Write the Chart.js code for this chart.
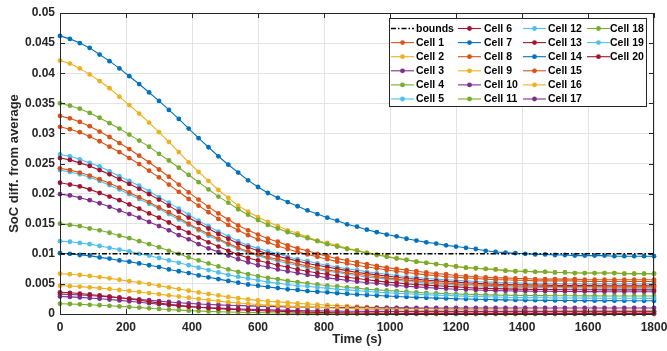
<!DOCTYPE html>
<html>
<head>
<meta charset="utf-8">
<title>SoC balancing</title>
<script src="https://cdn.jsdelivr.net/npm/chart.js@4.4.1/dist/chart.umd.min.js"></script>
<style>
  html, body { margin: 0; padding: 0; background: #fff; }
  #wrap { width: 667px; height: 351px; }
</style>
</head>
<body>
<div id="wrap"><canvas id="socChart" width="667" height="351"></canvas></div>
<script>
// sample times (s)
const timeS = [0,30,60,90,120,150,180,210,240,270,300,330,360,390,420,450,480,510,540,570,
  600,630,660,690,720,750,780,810,840,870,900,930,960,990,1020,1050,1080,1110,1140,1170,
  1200,1230,1260,1290,1320,1350,1380,1410,1440,1470,1500,1530,1560,1590,1620,1650,1680,1710,1740,1770,1800];

// balancing bound
const boundTimes = [0, 1800];
const boundValues = [0.01, 0.01];

// SoC difference from the pack average, one array per cell
const cell1 = [0.0329,0.0325,0.0319,0.0312,0.0303,0.0294,0.0284,0.0274,0.0263,0.0252,
  0.024,0.0228,0.0215,0.0202,0.019,0.0178,0.0167,0.0157,0.0147,0.0139,
  0.0132,0.0125,0.012,0.0114,0.0109,0.0105,0.01,0.0096,0.0092,0.0089,
  0.0086,0.0083,0.008,0.0077,0.0075,0.0073,0.0071,0.0069,0.0067,0.0066,
  0.0064,0.0063,0.0062,0.0061,0.006,0.006,0.0059,0.0059,0.0058,0.0058,
  0.0058,0.0058,0.0058,0.0057,0.0057,0.0057,0.0057,0.0057,0.0057,0.0057,0.0057];
const cell2 = [0.0421,0.0416,0.0408,0.0398,0.0387,0.0375,0.0361,0.0347,0.0333,0.0318,
  0.0302,0.0286,0.0269,0.0252,0.0236,0.0221,0.0206,0.0193,0.018,0.017,
  0.0161,0.0153,0.0146,0.0139,0.0134,0.0128,0.0122,0.0118,0.0114,0.0109,
  0.0106,0.0102,0.0099,0.0096,0.0093,0.009,0.0087,0.0085,0.0083,0.0081,
  0.0079,0.0077,0.0076,0.0075,0.0074,0.0072,0.0071,0.0071,0.007,0.007,
  0.0069,0.0069,0.0068,0.0068,0.0068,0.0068,0.0068,0.0067,0.0067,0.0067,0.0067];
const cell3 = [0.0199,0.0197,0.0193,0.0189,0.0184,0.0178,0.0172,0.0166,0.016,0.0153,
  0.0146,0.0139,0.0131,0.0124,0.0116,0.0109,0.0103,0.0097,0.0091,0.0086,
  0.0081,0.0078,0.0074,0.0071,0.0068,0.0065,0.0063,0.006,0.0058,0.0056,
  0.0054,0.0052,0.0051,0.0049,0.00475,0.0046,0.0045,0.0044,0.0043,0.0042,
  0.0041,0.00406,0.00399,0.00394,0.00389,0.00386,0.00382,0.0038,0.00378,0.00377,
  0.00375,0.00373,0.00373,0.00372,0.00372,0.0037,0.0037,0.0037,0.0037,0.0037,0.0037];
const cell4 = [0.035,0.0346,0.0341,0.0334,0.0326,0.0317,0.0308,0.0298,0.0288,0.0278,
  0.0266,0.0255,0.0243,0.0231,0.0219,0.0207,0.0195,0.0185,0.0174,0.0165,
  0.0156,0.0148,0.0142,0.0136,0.0131,0.0126,0.0121,0.0116,0.0112,0.0108,
  0.0105,0.0101,0.0098,0.0095,0.0092,0.009,0.0087,0.0085,0.0083,0.0081,
  0.0079,0.0077,0.0076,0.0075,0.0074,0.0072,0.0071,0.0071,0.007,0.007,
  0.0069,0.0069,0.0068,0.0068,0.0068,0.0068,0.0068,0.0067,0.0067,0.0067,0.0067];
const cell5 = [0.0265,0.0262,0.0257,0.0251,0.0245,0.0237,0.0229,0.0221,0.0213,0.0204,
  0.0194,0.0185,0.0175,0.0165,0.0155,0.0146,0.0137,0.0129,0.0121,0.0114,
  0.0109,0.0104,0.01,0.0095,0.0091,0.0088,0.0084,0.0081,0.0078,0.0075,
  0.0073,0.007,0.0068,0.0066,0.0064,0.0062,0.0061,0.0059,0.0058,0.0057,
  0.0056,0.0055,0.0054,0.0053,0.0053,0.0052,0.0052,0.0051,0.0051,0.0051,
  0.0051,0.005,0.005,0.005,0.005,0.005,0.005,0.005,0.005,0.005,0.005];
const cell6 = [0.0259,0.0256,0.0251,0.0246,0.0239,0.0232,0.0224,0.0216,0.0208,0.0199,
  0.019,0.018,0.017,0.016,0.0151,0.0142,0.0133,0.0125,0.0117,0.0111,
  0.0105,0.01,0.0096,0.0092,0.0088,0.0084,0.0081,0.0078,0.0075,0.0072,
  0.0069,0.0067,0.0065,0.0063,0.0061,0.0059,0.0058,0.0056,0.0055,0.0054,
  0.0053,0.0052,0.0051,0.005,0.00495,0.0049,0.00486,0.00483,0.00481,0.00479,
  0.00476,0.00474,0.00474,0.00472,0.00472,0.0047,0.0047,0.0047,0.0047,0.0047,0.0047];
const cell7 = [0.0462,0.0457,0.045,0.0442,0.0431,0.042,0.0408,0.0395,0.0382,0.0368,
  0.0354,0.0339,0.0324,0.0308,0.0292,0.0277,0.0262,0.0248,0.0235,0.0222,
  0.0211,0.0201,0.0193,0.0186,0.0179,0.0172,0.0166,0.016,0.0155,0.0149,
  0.0145,0.014,0.0136,0.0132,0.0129,0.0125,0.0122,0.0119,0.0117,0.0114,
  0.0112,0.011,0.0108,0.0105,0.0103,0.0102,0.0101,0.01,0.0099,0.0099,
  0.0098,0.0098,0.0097,0.0097,0.0097,0.0097,0.0096,0.0096,0.0096,0.0096,0.0096];
const cell8 = [0.0311,0.0307,0.0302,0.0295,0.0287,0.0278,0.0269,0.0259,0.0249,0.0238,
  0.0227,0.0215,0.0203,0.0191,0.018,0.0169,0.0158,0.0148,0.0139,0.0131,
  0.0124,0.0119,0.0113,0.0108,0.0103,0.0099,0.0095,0.0091,0.0087,0.0084,
  0.0081,0.0078,0.0076,0.0073,0.0071,0.0069,0.0067,0.0065,0.0064,0.0062,
  0.0061,0.006,0.0059,0.0058,0.0057,0.0057,0.0056,0.0056,0.0055,0.0055,
  0.0055,0.0055,0.0055,0.0054,0.0054,0.0054,0.0054,0.0054,0.0054,0.0054,0.0054];
const cell9 = [0.0067,0.00661,0.00648,0.00632,0.00613,0.00592,0.00569,0.00546,0.00522,0.00497,
  0.0047,0.00442,0.00414,0.00386,0.00358,0.00332,0.00308,0.00284,0.00262,0.00243,
  0.00227,0.00213,0.00201,0.00189,0.00177,0.00167,0.00157,0.00148,0.00139,0.00132,
  0.00124,0.00117,0.00111,0.00105,0.001,0.00095,0.00091,0.00086,0.00083,0.00079,
  0.00076,0.00073,0.00071,0.00069,0.00067,0.00066,0.00065,0.00064,0.00063,0.000625,
  0.00062,0.00061,0.00061,0.0006,0.0006,0.0006,0.0006,0.0006,0.0006,0.0006,0.0006];
const cell10 = [0.0033,0.00325,0.00317,0.00307,0.00296,0.00284,0.00271,0.00257,0.00243,0.00228,
  0.00214,0.002,0.00187,0.00176,0.00166,0.00159,0.00152,0.00146,0.0014,0.00135,
  0.00131,0.00126,0.00123,0.00119,0.00116,0.00114,0.00111,0.00109,0.00107,0.00106,
  0.00104,0.00103,0.001025,0.00102,0.00101,0.00101,0.001,0.001,0.001,0.001,
  0.001,0.001,0.001,0.001,0.001,0.001,0.001,0.001,0.001,0.001,
  0.001,0.001,0.001,0.001,0.001,0.001,0.001,0.001,0.001,0.001,0.001];
const cell11 = [0.015,0.0148,0.0146,0.0142,0.0139,0.0135,0.013,0.0126,0.0121,0.0116,
  0.0111,0.0105,0.01,0.0094,0.0089,0.0084,0.0079,0.0074,0.007,0.0066,
  0.0063,0.006,0.0058,0.0055,0.0053,0.0051,0.0049,0.0047,0.0046,0.0044,
  0.0043,0.0041,0.004,0.0039,0.0038,0.0037,0.0036,0.0035,0.00344,0.00338,
  0.00331,0.00326,0.00322,0.00318,0.00314,0.00312,0.00309,0.00307,0.00306,0.00305,
  0.00304,0.00302,0.00302,0.00301,0.00301,0.003,0.003,0.003,0.003,0.003,0.003];
const cell12 = [0.0239,0.0236,0.0232,0.0227,0.0221,0.0214,0.0207,0.0199,0.0191,0.0183,
  0.0175,0.0166,0.0157,0.0148,0.0139,0.013,0.0123,0.0115,0.0108,0.0102,
  0.0097,0.0092,0.0088,0.0084,0.0081,0.0077,0.0074,0.0071,0.0069,0.0066,
  0.0064,0.0061,0.006,0.0058,0.0056,0.0054,0.0053,0.0051,0.005,0.0049,
  0.0048,0.0047,0.00465,0.0046,0.00454,0.00449,0.00445,0.00442,0.0044,0.00438,
  0.00436,0.00434,0.00434,0.00432,0.00432,0.0043,0.0043,0.0043,0.0043,0.0043,0.0043];
const cell13 = [0.0218,0.0215,0.0212,0.0207,0.0201,0.0195,0.0189,0.0182,0.0175,0.0167,
  0.016,0.0152,0.0143,0.0135,0.0127,0.0119,0.0112,0.0105,0.0099,0.0093,
  0.0089,0.0085,0.0081,0.0078,0.0074,0.0071,0.0068,0.0066,0.0063,0.0061,
  0.0059,0.0057,0.0055,0.0053,0.0052,0.005,0.0049,0.0048,0.0047,0.0046,
  0.0045,0.0044,0.0043,0.00426,0.00421,0.00417,0.00414,0.00411,0.00409,0.00407,
  0.00405,0.00404,0.00404,0.00402,0.00402,0.004,0.004,0.004,0.004,0.004,0.004];
const cell14 = [0.0101,0.01,0.0098,0.0097,0.0094,0.0092,0.0089,0.0087,0.0084,0.0081,
  0.0078,0.0074,0.0071,0.0068,0.0064,0.0061,0.0058,0.0055,0.0052,0.0049,
  0.0047,0.0045,0.0043,0.0041,0.004,0.0038,0.0037,0.0036,0.00346,0.00335,
  0.00325,0.00316,0.00307,0.00298,0.0029,0.00283,0.00276,0.0027,0.00264,0.00259,
  0.00254,0.00249,0.00245,0.00241,0.00238,0.00235,0.00233,0.0023,0.00229,0.00227,
  0.00226,0.00225,0.00224,0.00223,0.00222,0.00222,0.00222,0.00221,0.00221,0.0022,0.0022];
const cell15 = [0.0242,0.0239,0.0235,0.023,0.0224,0.0217,0.021,0.0202,0.0194,0.0186,
  0.0177,0.0169,0.016,0.015,0.0141,0.0133,0.0125,0.0117,0.011,0.0104,
  0.0099,0.0094,0.0091,0.0087,0.0083,0.008,0.0076,0.0073,0.0071,0.0068,
  0.0066,0.0064,0.0062,0.006,0.0058,0.0056,0.0055,0.0054,0.0052,0.0051,
  0.005,0.0049,0.00485,0.0048,0.00474,0.00469,0.00465,0.00462,0.0046,0.00458,
  0.00456,0.00454,0.00454,0.00452,0.00452,0.0045,0.0045,0.0045,0.0045,0.0045,0.0045];
const cell16 = [0.0047,0.00464,0.00455,0.00443,0.0043,0.00415,0.00399,0.00383,0.00366,0.00348,
  0.00329,0.0031,0.0029,0.0027,0.0025,0.00232,0.00215,0.00198,0.00182,0.00169,
  0.00158,0.00148,0.00139,0.00131,0.00123,0.00115,0.00108,0.00102,0.00096,0.00091,
  0.00085,0.0008,0.00076,0.00072,0.00068,0.00065,0.000615,0.000585,0.00056,0.000535,
  0.00051,0.000495,0.00048,0.00046,0.00045,0.00044,0.00043,0.00043,0.00042,0.00042,
  0.00041,0.00041,0.00041,0.0004,0.0004,0.0004,0.0004,0.0004,0.0004,0.0004,0.0004];
const cell17 = [0.0029,0.00284,0.00276,0.00265,0.00253,0.0024,0.00226,0.00211,0.00196,0.00179,
  0.00164,0.00149,0.00135,0.00122,0.00112,0.00104,0.00097,0.0009,0.00084,0.00078,
  0.00073,0.00069,0.00065,0.00061,0.00058,0.00055,0.00052,0.0005,0.00048,0.00046,
  0.00045,0.00044,0.00043,0.00042,0.000415,0.00041,0.0004,0.0004,0.0004,0.0004,
  0.0004,0.0004,0.0004,0.0004,0.0004,0.0004,0.0004,0.0004,0.0004,0.0004,
  0.0004,0.0004,0.0004,0.0004,0.0004,0.0004,0.0004,0.0004,0.0004,0.0004,0.0004];
const cell18 = [0.0017,0.00166,0.0016,0.00153,0.00145,0.00136,0.00126,0.00116,0.00106,0.00095,
  0.00084,0.00074,0.00065,0.00056,0.00049,0.00043,0.00038,0.00034,0.0003,0.00026,
  0.00023,0.0002,0.00017,0.00014,0.00012,0.0001,0.00008,0.00007,0.00005,0.00004,
  0.00003,0.00002,0.00002,0.00001,0.00001,0.00001,0,0,0,0,
  0,0,0,0,0,0,0,0,0,0,
  0,0,0,0,0,0,0,0,0,0,0];
const cell19 = [0.0121,0.012,0.0118,0.0116,0.0113,0.011,0.0107,0.0104,0.01,0.0097,
  0.0093,0.0089,0.0085,0.0081,0.0077,0.0073,0.0069,0.0065,0.0062,0.0059,
  0.0056,0.0053,0.0051,0.0049,0.0047,0.0046,0.0044,0.0043,0.0041,0.004,
  0.0039,0.00375,0.00365,0.00354,0.00345,0.00336,0.00327,0.0032,0.00313,0.00307,
  0.00301,0.00295,0.0029,0.00286,0.00282,0.00278,0.00275,0.00272,0.0027,0.00269,
  0.00267,0.00266,0.00265,0.00264,0.00263,0.00262,0.00262,0.00261,0.00261,0.0026,0.0026];
const cell20 = [0.0036,0.00352,0.0034,0.00325,0.00308,0.0029,0.0027,0.0025,0.00228,0.00205,
  0.00183,0.00162,0.00143,0.00125,0.00111,0.00099,0.00089,0.0008,0.00071,0.00064,
  0.00057,0.0005,0.00045,0.00039,0.00035,0.00031,0.00027,0.00024,0.00021,0.00019,
  0.00017,0.00015,0.00014,0.00013,0.00012,0.00011,0.0001,0.0001,0.0001,0.0001,
  0.0001,0.0001,0.0001,0.0001,0.0001,0.0001,0.0001,0.0001,0.0001,0.0001,
  0.0001,0.0001,0.0001,0.0001,0.0001,0.0001,0.0001,0.0001,0.0001,0.0001,0.0001];

const cellSeries = [cell1, cell2, cell3, cell4, cell5, cell6, cell7, cell8, cell9, cell10,
  cell11, cell12, cell13, cell14, cell15, cell16, cell17, cell18, cell19, cell20];

// MATLAB-like colour order, starting after the bounds line
const palette = ['#D95319', '#EDB120', '#7E2F8E', '#77AC30', '#4DBEEE', '#A2142F', '#0072BD'];
const axisColor = '#262626';
const fontFamily = "'Liberation Sans', Arial, Helvetica, sans-serif";
const boundDash = [5, 2, 1.5, 2];

const datasets = [{
  label: 'bounds',
  data: boundTimes.map((t, i) => ({ x: t, y: boundValues[i] })),
  borderColor: '#000',
  borderWidth: 1.5,
  borderDash: boundDash,
  pointRadius: 0,
  order: 0
}];

cellSeries.forEach((vals, k) => {
  const c = palette[k % palette.length];
  datasets.push({
    label: 'Cell ' + (k + 1),
    data: timeS.map((t, i) => ({ x: t, y: vals[i] })),
    borderColor: c,
    backgroundColor: c,
    pointBackgroundColor: c,
    pointBorderWidth: 0,
    pointRadius: 2.4,
    borderWidth: 1.1,
    clip: false,
    order: cellSeries.length - k   // later cells drawn on top
  });
});

// axes box with inward tick marks
const axesBox = {
  id: 'axesBox',
  afterDatasetsDraw(chart) {
    const { ctx, chartArea: a, scales } = chart;
    const tick = 5;
    ctx.save();
    ctx.strokeStyle = axisColor;
    ctx.lineWidth = 1;
    ctx.strokeRect(a.left + 0.5, a.top + 0.5, a.right - a.left - 1, a.bottom - a.top);
    ctx.beginPath();
    scales.x.ticks.forEach(t => {
      const px = Math.round(scales.x.getPixelForValue(t.value)) + 0.5;
      ctx.moveTo(px, a.bottom); ctx.lineTo(px, a.bottom - tick);
      ctx.moveTo(px, a.top); ctx.lineTo(px, a.top + tick);
    });
    scales.y.ticks.forEach(t => {
      const py = Math.round(scales.y.getPixelForValue(t.value)) + 0.5;
      ctx.moveTo(a.left, py); ctx.lineTo(a.left + tick, py);
      ctx.moveTo(a.right, py); ctx.lineTo(a.right - tick, py);
    });
    ctx.stroke();
    ctx.restore();
  }
};

// four-column legend, filled column by column
const boxLegend = {
  id: 'boxLegend',
  afterDraw(chart) {
    const { ctx } = chart;
    const box = { left: 389.5, top: 18.5, right: 646.5, bottom: 106.5 };
    const cols = [{ line: 391, text: 416 }, { line: 458, text: 484 }, { line: 523, text: 548 }, { line: 587, text: 610 }];
    const lineLen = 23, row0 = 28.5, rowStep = 14.1, perCol = 6;
    ctx.save();
    ctx.fillStyle = '#fff';
    ctx.fillRect(box.left, box.top, box.right - box.left, box.bottom - box.top);
    ctx.strokeStyle = axisColor;
    ctx.lineWidth = 1;
    ctx.strokeRect(box.left, box.top, box.right - box.left, box.bottom - box.top);
    ctx.font = 'bold 10.5px ' + fontFamily;
    ctx.textBaseline = 'middle';
    chart.data.datasets.forEach((ds, i) => {
      const col = cols[Math.floor(i / perCol)];
      const y = row0 + (i % perCol) * rowStep;
      ctx.strokeStyle = ds.borderColor;
      ctx.lineWidth = ds.borderWidth;
      ctx.setLineDash(ds.borderDash || []);
      ctx.beginPath();
      ctx.moveTo(col.line, y);
      ctx.lineTo(col.line + lineLen, y);
      ctx.stroke();
      ctx.setLineDash([]);
      if (ds.pointRadius) {
        ctx.fillStyle = ds.borderColor;
        ctx.beginPath();
        ctx.arc(col.line + lineLen / 2, y, ds.pointRadius, 0, Math.PI * 2);
        ctx.fill();
      }
      ctx.fillStyle = '#000';
      ctx.fillText(ds.label, col.text, y + 0.5);
    });
    ctx.restore();
  }
};

Chart.defaults.font.family = fontFamily;
Chart.defaults.font.weight = 'bold';
Chart.defaults.color = axisColor;

new Chart(document.getElementById('socChart'), {
  type: 'line',
  data: { datasets },
  options: {
    responsive: false,
    animation: false,
    devicePixelRatio: 1,
    layout: { padding: { top: 13, right: 13, left: 0, bottom: 0 } },
    plugins: { legend: { display: false }, tooltip: { enabled: false } },
    scales: {
      x: {
        type: 'linear',
        min: 0,
        max: 1800,
        afterFit(s) { s.height = 37; s.paddingLeft = 0; s.paddingRight = 0; },
        ticks: { stepSize: 200, padding: 6, maxRotation: 0, font: { size: 12, weight: 'bold' },
          callback: v => String(v) },
        grid: { color: '#e3e3e3', drawTicks: false },
        border: { display: false },
        title: { display: true, text: 'Time (s)', font: { size: 13, weight: 'bold' }, padding: { top: 0, bottom: 4 } }
      },
      y: {
        min: 0,
        max: 0.05,
        afterFit(s) { s.width = 60; },
        ticks: { stepSize: 0.005, padding: 5, font: { size: 12, weight: 'bold' },
          callback: v => String(+v.toFixed(3)) },
        grid: { color: '#e3e3e3', drawTicks: false },
        border: { display: false },
        title: { display: true, text: 'SoC diff. from average', font: { size: 13, weight: 'bold' }, padding: { top: 7, bottom: 0 } }
      }
    }
  },
  plugins: [axesBox, boxLegend]
});
</script>
</body>
</html>
